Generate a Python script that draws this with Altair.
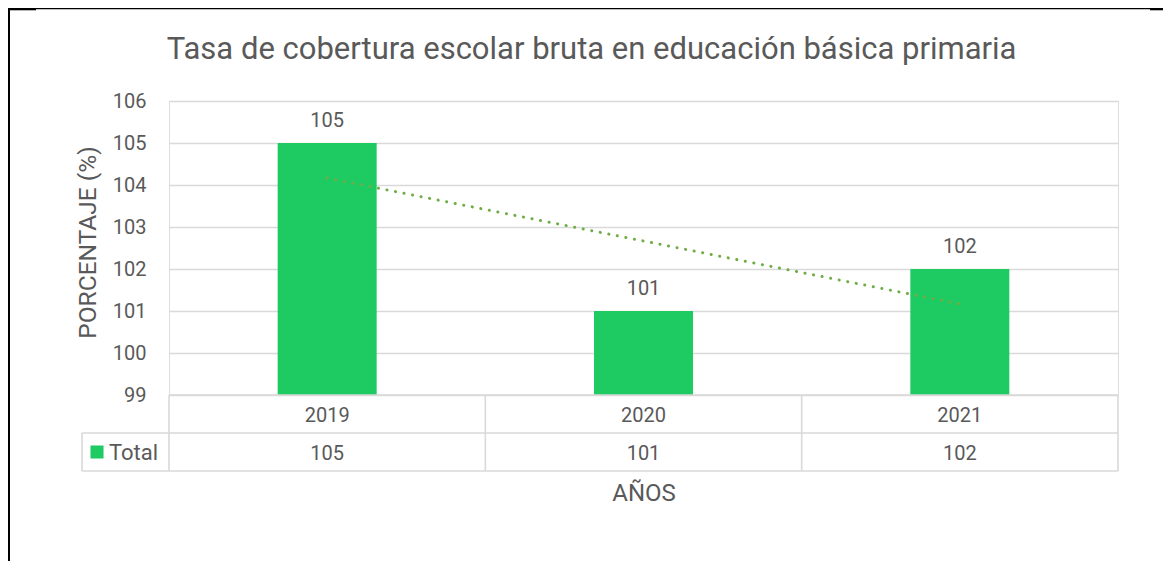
import altair as alt
import pandas as pd

# ---- data ----
years = [2019, 2020, 2021]
values = [105, 101, 102]
series_name = ["Total"]
y_ticks = [99, 100, 101, 102, 103, 104, 105, 106]

df = pd.DataFrame({"year": years, "value": values})
legend_df = pd.DataFrame({"series": series_name})
one = pd.DataFrame({"k": [0]})

W, H = 949, 294
FONT = "Roboto"
TXT = "#595959"
GRID = "#d9d9d9"
BAR = "#1ECB62"
TREND = "#70AD47"

x_enc = alt.X(
    "year:O",
    scale=alt.Scale(paddingInner=0, paddingOuter=0),
    axis=alt.Axis(title="AÑOS", labels=False, ticks=False, domain=False,
                  titlePadding=86, titleFontSize=24, titleFont=FONT,
                  titleColor=TXT, titleFontWeight="normal"),
)
y_scale = alt.Scale(domain=[99, 106], nice=False, zero=False)

base = alt.Chart(df)

bars = base.mark_bar(color=BAR, width=alt.RelativeBandSize(0.313)).encode(
    x=x_enc,
    y=alt.Y("value:Q", scale=y_scale,
            axis=alt.Axis(values=y_ticks, grid=True, gridColor=GRID, gridWidth=1.3,
                          domain=False, ticks=False, labelPadding=23,
                          labelFontSize=20, labelFont=FONT, labelColor=TXT,
                          title="PORCENTAJE (%)", titleFontSize=24.5, titleFont=FONT,
                          titleColor=TXT, titleFontWeight="normal",
                          titleAngle=270, titleX=-81, titleY=H / 2 - 6,
                          titleAlign="center", titleBaseline="middle")),
    y2=alt.datum(99),
)

trend = base.transform_regression("year", "value", method="linear").mark_line(
    color=TREND, strokeWidth=3, strokeDash=[0.1, 8.6], strokeCap="round"
).encode(
    x=alt.X("year:O", bandPosition=0.5),
    y=alt.Y("value:Q", scale=y_scale),
)

labels = base.mark_text(font=FONT, fontSize=20, color=TXT, baseline="alphabetic", dy=-16).encode(
    x=alt.X("year:O", bandPosition=0.5),
    y=alt.Y("value:Q", scale=y_scale),
    text="value:Q",
)

# data table below the plot
tbl_year = base.mark_text(font=FONT, fontSize=20, color=TXT, baseline="alphabetic").encode(
    x=alt.X("year:O", bandPosition=0.5),
    y=alt.value(H + 27),
    text="year:O",
)
tbl_val = base.mark_text(font=FONT, fontSize=20, color=TXT, baseline="alphabetic").encode(
    x=alt.X("year:O", bandPosition=0.5),
    y=alt.value(H + 65),
    text="value:Q",
)
tbl_vlines = base.mark_rule(color=GRID, strokeWidth=1.6).encode(
    x=alt.X("year:O", bandPosition=0),
    y=alt.value(H),
    y2=alt.value(H + 76),
)
line_style = dict(color=GRID, strokeWidth=1.6)
oc = alt.Chart(one)
tbl_right = oc.mark_rule(**line_style).encode(x=alt.value(W), y=alt.value(H), y2=alt.value(H + 76))
tbl_h1 = oc.mark_rule(**line_style).encode(x=alt.value(0), x2=alt.value(W), y=alt.value(H + 38))
tbl_h2 = oc.mark_rule(**line_style).encode(x=alt.value(-87), x2=alt.value(W), y=alt.value(H + 76))
tbl_h0 = oc.mark_rule(**line_style).encode(x=alt.value(0), x2=alt.value(W), y=alt.value(H))
tbl_hl = oc.mark_rule(**line_style).encode(x=alt.value(-87), x2=alt.value(0), y=alt.value(H + 38))
tbl_vl = oc.mark_rule(**line_style).encode(x=alt.value(-87), y=alt.value(H + 38), y2=alt.value(H + 76))

leg_sq = alt.Chart(legend_df).mark_square(color=BAR, size=170, opacity=1).encode(
    x=alt.value(-72), y=alt.value(H + 57),
)
leg_txt = alt.Chart(legend_df).mark_text(font=FONT, fontSize=22, color=TXT, align="left",
                                         baseline="alphabetic").encode(
    x=alt.value(-60), y=alt.value(H + 65), text="series:N",
)

# outer frame (left and top edge)
frame_left = oc.mark_rule(color="black", strokeWidth=2).encode(
    x=alt.value(-160), y=alt.value(-93), y2=alt.value(H + 166))
frame_top = oc.mark_rule(color="black", strokeWidth=1.4).encode(
    x=alt.value(-161), x2=alt.value(W + 45), y=alt.value(-92.5))
frame_top_l = oc.mark_rule(color="black", strokeWidth=2.6).encode(
    x=alt.value(-161), x2=alt.value(-133), y=alt.value(-92))
frame_top_r = oc.mark_rule(color="black", strokeWidth=2.6).encode(
    x=alt.value(W + 32), x2=alt.value(W + 45), y=alt.value(-92))

chart = alt.layer(
    bars, trend, labels, tbl_vlines, tbl_right, tbl_h0, tbl_h1, tbl_h2, tbl_hl, tbl_vl,
    tbl_year, tbl_val, leg_sq, leg_txt, frame_left, frame_top, frame_top_l, frame_top_r,
).properties(
    width=W, height=H,
    title=alt.TitleParams(
        "Tasa de cobertura escolar bruta en educación básica primaria",
        anchor="start", fontSize=31, font=FONT, color=TXT, fontWeight="normal",
        baseline="alphabetic", offset=-83, dx=160,
    ),
    autosize=alt.AutoSizeParams(type="none"),
    padding={"left": 161, "top": 93, "right": 45, "bottom": 166},
).configure_view(stroke=None).configure(background="white")

chart.save("out.html", embed_options={"renderer": "svg", "actions": False})
